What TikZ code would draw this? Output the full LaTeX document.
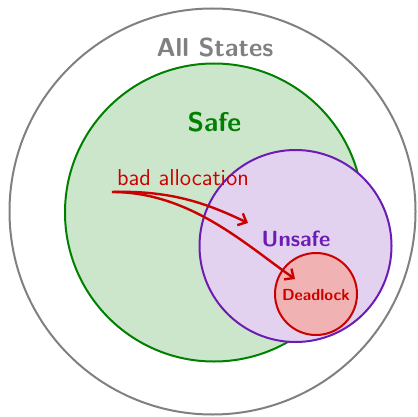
\documentclass[tikz,border=0pt]{standalone}
\usetikzlibrary{arrows.meta}
\definecolor{allgray}{RGB}{128,128,128}
\definecolor{safegreen}{RGB}{0,128,0}
\definecolor{unsafepurple}{RGB}{108,28,180}
\definecolor{deadred}{RGB}{204,0,0}
\tikzset{
  region/.style={circle, inner sep=0pt, line width=1pt},
  lbl/.style={font=\sffamily\bfseries, anchor=base, inner sep=0pt},
  badarrow/.style={draw=deadred, line width=1.2pt,
    -{Straight Barb[length=3.5pt,width=6.5pt,line width=1.2pt]}},
}
\begin{document}
\begin{tikzpicture}[x=0.5pt,y=-0.5pt]
  \useasboundingbox (0,0) rectangle (417,417);
  % state-space regions (one unit = 0.5pt, so diameters are halved here)
  \node[region, draw=allgray, minimum size=203pt] (all) at (212.5,211.5) {};
  \node[region, draw=safegreen, fill=safegreen!20, minimum size=149pt] (safe) at (214,212.5) {};
  \node[region, draw=unsafepurple, fill=unsafepurple!20, minimum size=96pt] (unsafe) at (295.5,246) {};
  \node[region, draw=deadred, fill=deadred!30, minimum size=41pt] (dead) at (316,294) {};
  % labels
  \node[lbl, text=allgray, font=\sffamily\bfseries\fontsize{13}{15}\selectfont] (tall) at (215,57) {All States};
  \node[lbl, text=safegreen, font=\sffamily\bfseries\fontsize{13.5}{16}\selectfont] (tsafe) at (214.5,132) {Safe};
  \node[lbl, text=unsafepurple, font=\sffamily\bfseries\fontsize{11}{13}\selectfont] (tunsafe) at (296,246) {Unsafe};
  \node[lbl, text=deadred, font=\sffamily\bfseries\fontsize{8}{10}\selectfont] (tdead) at (316,300) {Deadlock};
  \node[lbl, text=deadred, font=\sffamily\fontsize{11.5}{14}\selectfont] (tbad) at (183,185) {bad allocation};
  % transitions out of the safe region
  \coordinate (src) at (112,192);
  \coordinate (hit1) at (248,223);
  \coordinate (hit2) at (295,279);
  \draw[badarrow] (src) .. controls (175,190) and (212,206) .. (hit1);
  \draw[badarrow] (src) .. controls (190,192) and (246,245) .. (hit2);
\end{tikzpicture}
\end{document}
